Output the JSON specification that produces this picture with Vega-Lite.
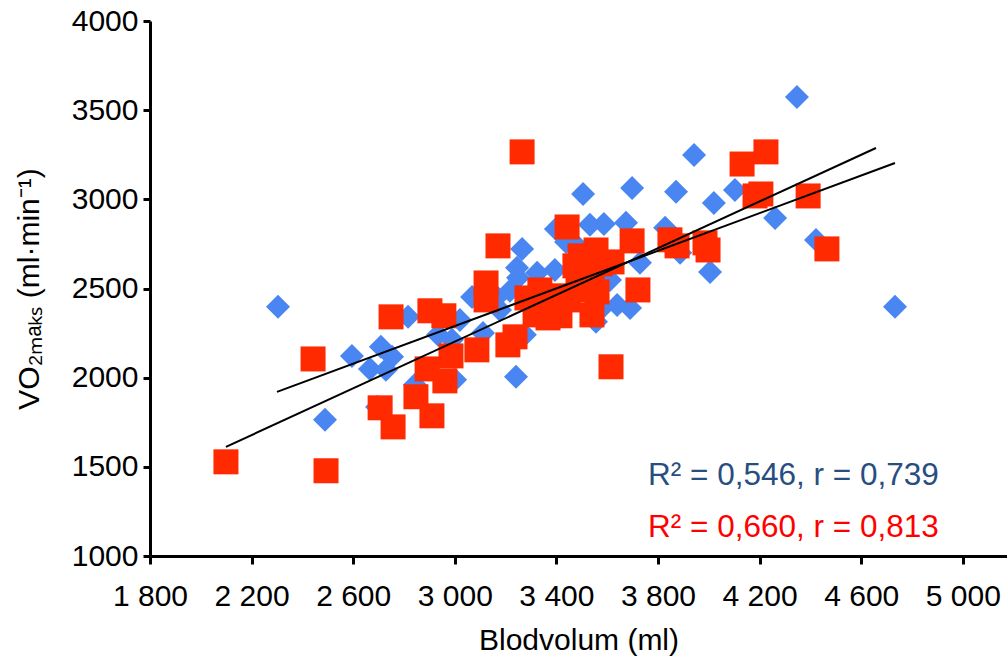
{
  "$schema": "https://vega.github.io/schema/vega-lite/v6.json",
  "width": 857,
  "height": 535,
  "autosize": {"type": "none"},
  "padding": {"left": 150, "top": 21, "right": 0, "bottom": 110},
  "background": "white",
  "config": {"view": {"stroke": null}, "font": "Liberation Sans"},
  "datasets": {
    "points": [
      {"g": "blå", "bv": 2304, "vo2": 2397},
      {"g": "blå", "bv": 2489, "vo2": 1764},
      {"g": "blå", "bv": 2595, "vo2": 2122},
      {"g": "blå", "bv": 2709, "vo2": 2173},
      {"g": "blå", "bv": 2666, "vo2": 2049},
      {"g": "blå", "bv": 2753, "vo2": 2117},
      {"g": "blå", "bv": 2729, "vo2": 2044},
      {"g": "blå", "bv": 2694, "vo2": 1836},
      {"g": "blå", "bv": 2816, "vo2": 2341},
      {"g": "blå", "bv": 2843, "vo2": 1960},
      {"g": "blå", "bv": 2934, "vo2": 2240},
      {"g": "blå", "bv": 2989, "vo2": 2212},
      {"g": "blå", "bv": 3001, "vo2": 1988},
      {"g": "blå", "bv": 3111, "vo2": 2251},
      {"g": "blå", "bv": 3241, "vo2": 2005},
      {"g": "blå", "bv": 3276, "vo2": 2240},
      {"g": "blå", "bv": 3068, "vo2": 2453},
      {"g": "blå", "bv": 3166, "vo2": 2453},
      {"g": "blå", "bv": 3217, "vo2": 2487},
      {"g": "blå", "bv": 3249, "vo2": 2560},
      {"g": "blå", "bv": 3245, "vo2": 2616},
      {"g": "blå", "bv": 3324, "vo2": 2588},
      {"g": "blå", "bv": 3394, "vo2": 2604},
      {"g": "blå", "bv": 3265, "vo2": 2722},
      {"g": "blå", "bv": 3398, "vo2": 2834},
      {"g": "blå", "bv": 3505, "vo2": 3030},
      {"g": "blå", "bv": 3587, "vo2": 2862},
      {"g": "blå", "bv": 3674, "vo2": 2868},
      {"g": "blå", "bv": 3698, "vo2": 3064},
      {"g": "blå", "bv": 3871, "vo2": 3042},
      {"g": "blå", "bv": 3942, "vo2": 3249},
      {"g": "blå", "bv": 4020, "vo2": 2980},
      {"g": "blå", "bv": 4103, "vo2": 3053},
      {"g": "blå", "bv": 4261, "vo2": 2896},
      {"g": "blå", "bv": 4422, "vo2": 2772},
      {"g": "blå", "bv": 4347, "vo2": 3574},
      {"g": "blå", "bv": 4005, "vo2": 2593},
      {"g": "blå", "bv": 4733, "vo2": 2397},
      {"g": "blå", "bv": 3828, "vo2": 2840},
      {"g": "blå", "bv": 3887, "vo2": 2700},
      {"g": "blå", "bv": 3729, "vo2": 2644},
      {"g": "blå", "bv": 3690, "vo2": 2391},
      {"g": "blå", "bv": 3639, "vo2": 2408},
      {"g": "blå", "bv": 3556, "vo2": 2313},
      {"g": "blå", "bv": 3532, "vo2": 2857},
      {"g": "blå", "bv": 3611, "vo2": 2548},
      {"g": "blå", "bv": 3572, "vo2": 2380},
      {"g": "blå", "bv": 3438, "vo2": 2761},
      {"g": "blå", "bv": 3178, "vo2": 2380},
      {"g": "blå", "bv": 3020, "vo2": 2324},
      {"g": "blå", "bv": 3335, "vo2": 2436},
      {"g": "blå", "bv": 3485, "vo2": 2733},
      {"g": "rød", "bv": 2099, "vo2": 1528},
      {"g": "rød", "bv": 2493, "vo2": 1478},
      {"g": "rød", "bv": 2442, "vo2": 2105},
      {"g": "rød", "bv": 2749, "vo2": 2341},
      {"g": "rød", "bv": 2706, "vo2": 1831},
      {"g": "rød", "bv": 2757, "vo2": 1724},
      {"g": "rød", "bv": 2847, "vo2": 1893},
      {"g": "rød", "bv": 2910, "vo2": 1786},
      {"g": "rød", "bv": 2902, "vo2": 2375},
      {"g": "rød", "bv": 2957, "vo2": 2347},
      {"g": "rød", "bv": 2891, "vo2": 2049},
      {"g": "rød", "bv": 2961, "vo2": 1982},
      {"g": "rød", "bv": 2985, "vo2": 2122},
      {"g": "rød", "bv": 3087, "vo2": 2156},
      {"g": "rød", "bv": 3209, "vo2": 2184},
      {"g": "rød", "bv": 3237, "vo2": 2229},
      {"g": "rød", "bv": 3123, "vo2": 2531},
      {"g": "rød", "bv": 3123, "vo2": 2436},
      {"g": "rød", "bv": 3170, "vo2": 2739},
      {"g": "rød", "bv": 3265, "vo2": 3266},
      {"g": "rød", "bv": 3442, "vo2": 2845},
      {"g": "rød", "bv": 3473, "vo2": 2627},
      {"g": "rød", "bv": 3698, "vo2": 2767},
      {"g": "rød", "bv": 3847, "vo2": 2773},
      {"g": "rød", "bv": 3875, "vo2": 2739},
      {"g": "rød", "bv": 3985, "vo2": 2756},
      {"g": "rød", "bv": 3997, "vo2": 2716},
      {"g": "rød", "bv": 4131, "vo2": 3198},
      {"g": "rød", "bv": 4225, "vo2": 3266},
      {"g": "rød", "bv": 4182, "vo2": 3019},
      {"g": "rød", "bv": 4205, "vo2": 3030},
      {"g": "rød", "bv": 4391, "vo2": 3019},
      {"g": "rød", "bv": 4465, "vo2": 2722},
      {"g": "rød", "bv": 3721, "vo2": 2492},
      {"g": "rød", "bv": 3615, "vo2": 2061},
      {"g": "rød", "bv": 3316, "vo2": 2352},
      {"g": "rød", "bv": 3367, "vo2": 2335},
      {"g": "rød", "bv": 3414, "vo2": 2347},
      {"g": "rød", "bv": 3446, "vo2": 2436},
      {"g": "rød", "bv": 3485, "vo2": 2492},
      {"g": "rød", "bv": 3532, "vo2": 2509},
      {"g": "rød", "bv": 3560, "vo2": 2481},
      {"g": "rød", "bv": 3493, "vo2": 2683},
      {"g": "rød", "bv": 3556, "vo2": 2716},
      {"g": "rød", "bv": 3540, "vo2": 2582},
      {"g": "rød", "bv": 3394, "vo2": 2459},
      {"g": "rød", "bv": 3540, "vo2": 2352},
      {"g": "rød", "bv": 3284, "vo2": 2447},
      {"g": "rød", "bv": 3335, "vo2": 2492},
      {"g": "rød", "bv": 3572, "vo2": 2638},
      {"g": "rød", "bv": 3619, "vo2": 2649}
    ],
    "fits": [
      {"g": "blå", "bv": 2300, "vo2": 1920},
      {"g": "blå", "bv": 4733, "vo2": 3204},
      {"g": "rød", "bv": 2099, "vo2": 1612},
      {"g": "rød", "bv": 4658, "vo2": 3288}
    ],
    "notes": [
      {"g": "blå", "bv": 3761, "vo2": 1399, "label": "R² = 0,546, r = 0,739"},
      {"g": "rød", "bv": 3761, "vo2": 1108, "label": "R² = 0,660, r = 0,813"}
    ]
  },
  "encoding": {
    "x": {
      "field": "bv", "type": "quantitative",
      "scale": {"domain": [1800, 5174], "nice": false, "zero": false},
      "axis": {
        "title": "Blodvolum (ml)",
        "values": [1800, 2200, 2600, 3000, 3400, 3800, 4200, 4600, 5000],
        "labelExpr": "replace(format(datum.value, ','), ',', ' ')",
        "grid": false, "domainColor": "black", "domainWidth": 3, "tickColor": "black", "tickWidth": 3, "tickSize": 8,
        "labelFontSize": 30, "labelColor": "black", "labelPadding": 17, "labelFlush": false, "labelOverlap": false,
        "titleFontSize": 30, "titleFontWeight": "normal", "titleColor": "black", "titlePadding": 14
      }
    },
    "y": {
      "field": "vo2", "type": "quantitative",
      "scale": {"domain": [1000, 4000], "nice": false, "zero": false},
      "axis": {
        "title": "VO₂ₘₐₖₛ (ml·min⁻¹)",
        "values": [1000, 1500, 2000, 2500, 3000, 3500, 4000],
        "format": "d",
        "grid": false, "domainColor": "black", "domainWidth": 3, "tickColor": "black", "tickWidth": 3, "tickSize": 7,
        "labelFontSize": 30, "labelColor": "black", "labelPadding": 5, "labelFlush": false, "labelOverlap": false,
        "titleFontSize": 30, "titleFontWeight": "normal", "titleColor": "black", "titlePadding": 27
      }
    }
  },
  "layer": [
    {
      "data": {"name": "points"},
      "transform": [{"filter": "datum.g == 'blå'"}],
      "mark": {"type": "point", "shape": "diamond", "filled": true, "opacity": 1, "size": 576, "color": "#4a86f2", "strokeWidth": 0}
    },
    {
      "data": {"name": "points"},
      "transform": [{"filter": "datum.g == 'rød'"}],
      "mark": {"type": "point", "shape": "square", "filled": true, "opacity": 1, "size": 625, "color": "#ff2a00", "strokeWidth": 0}
    },
    {
      "data": {"name": "fits"},
      "mark": {"type": "line", "color": "black", "strokeWidth": 2},
      "encoding": {"detail": {"field": "g", "type": "nominal"}}
    },
    {
      "data": {"name": "notes"},
      "mark": {"type": "text", "align": "left", "baseline": "alphabetic", "fontSize": 31.5},
      "encoding": {
        "text": {"field": "label", "type": "nominal"},
        "color": {"field": "g", "type": "nominal", "scale": {"domain": ["blå", "rød"], "range": ["#284d80", "#ff0000"]}, "legend": null}
      }
    }
  ]
}
